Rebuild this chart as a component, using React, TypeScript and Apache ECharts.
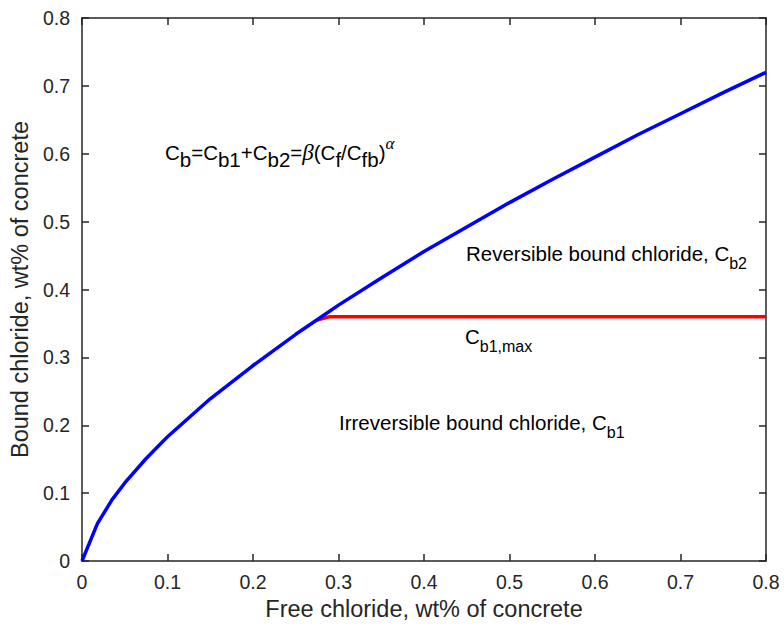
import React, { useEffect, useRef } from "react";
import * as echarts from "echarts";

const freeChloride = [0, 0.018, 0.035, 0.05, 0.075, 0.1, 0.15, 0.2, 0.25, 0.278, 0.3, 0.35, 0.4, 0.45, 0.5, 0.55, 0.6, 0.65, 0.7, 0.75, 0.8];
const boundChloride = [0, 0.055, 0.09, 0.115, 0.151, 0.183, 0.239, 0.288, 0.334, 0.358, 0.377, 0.417, 0.456, 0.492, 0.528, 0.562, 0.595, 0.628, 0.659, 0.69, 0.72];
const cb1MaxX = [0.275, 0.29, 0.8];
const cb1MaxY = [0.355, 0.36, 0.36];

const xAxisName = "Free chloride, wt% of concrete";
const yAxisName = "Bound chloride, wt% of concrete";

const AXIS_COLOR = "#262626";
const FONT = "'Liberation Sans', Arial, Helvetica, sans-serif";
const SERIF = "'Liberation Serif', 'DejaVu Serif', serif";

const richStyles = {
  n: { fontSize: 20.5, lineHeight: 20, fontFamily: FONT, color: "#000" },
  s: { fontSize: 16, lineHeight: 16, padding: [20, 0, 0, 0], fontFamily: FONT, color: "#000" },
  fs: { fontSize: 20.5, lineHeight: 20, padding: [15, 0, 0, 0], fontFamily: FONT, color: "#000" },
  g: { fontSize: 23, lineHeight: 20, fontFamily: SERIF, fontStyle: "italic", color: "#555" },
  sup: { fontSize: 17, lineHeight: 16, padding: [0, 0, 17, 0], fontFamily: SERIF, fontStyle: "italic", color: "#555" },
};

export default function App() {
  const ref = useRef<HTMLDivElement>(null);
  useEffect(() => {
    if (!ref.current) return;
    const chart = echarts.init(ref.current, null, { renderer: "svg" });
    const axisCommon = {
      type: "value" as const,
      min: 0,
      max: 0.8,
      interval: 0.1,
      axisLine: { show: true, onZero: false, lineStyle: { color: AXIS_COLOR, width: 1.5 } },
      axisTick: { show: true, inside: true, length: 7, lineStyle: { color: AXIS_COLOR, width: 1.5 } },
      splitLine: { show: false },
    };
    const mkText = (x: number, y: number, text: string) => ({
      type: "text",
      x,
      y,
      style: { text, rich: richStyles, verticalAlign: "middle", align: "left" },
    });
    chart.setOption({
      animation: false,
      backgroundColor: "#fff",
      grid: { left: 80, right: 18, top: 18, bottom: 69, containLabel: false },
      xAxis: [
        {
          ...axisCommon,
          position: "bottom",
          name: xAxisName,
          nameLocation: "middle",
          nameGap: 32,
          nameTextStyle: { fontSize: 23.5, color: AXIS_COLOR, fontFamily: FONT },
          axisLabel: { fontSize: 19.5, color: AXIS_COLOR, fontFamily: FONT, margin: 11 },
        },
        { ...axisCommon, position: "top", axisLabel: { show: false } },
      ],
      yAxis: [
        {
          ...axisCommon,
          position: "left",
          name: yAxisName,
          nameLocation: "middle",
          nameGap: 45,
          nameTextStyle: { fontSize: 23.5, color: AXIS_COLOR, fontFamily: FONT },
          axisLabel: { fontSize: 19.5, color: AXIS_COLOR, fontFamily: FONT, margin: 12 },
        },
        { ...axisCommon, position: "right", axisLabel: { show: false } },
      ],
      series: [
        {
          type: "line",
          data: cb1MaxX.map((x, i) => [x, cb1MaxY[i]]),
          symbol: "none",
          lineStyle: { color: "#ff0000", width: 3.5 },
          z: 2,
        },
        {
          type: "line",
          data: freeChloride.map((x, i) => [x, boundChloride[i]]),
          symbol: "none",
          smooth: false,
          lineStyle: { color: "#0000ff", width: 3.5 },
          z: 3,
        },
      ],
      graphic: [
        mkText(165, 152, "{n|C}{fs|b}{n|=C}{fs|b1}{n|+C}{fs|b2}{n|=}{g|β}{n|(C}{fs|f}{n|/C}{fs|fb}{n|)}{sup|α}"),
        mkText(466, 253, "{n|Reversible bound chloride, C}{s|b2}"),
        mkText(465, 336, "{n|C}{s|b1,max}"),
        mkText(339, 422, "{n|Irreversible bound chloride, C}{s|b1}"),
      ],
    });
    return () => chart.dispose();
  }, []);
  return <div ref={ref} style={{ position: "absolute", left: 0, top: 0, width: 784, height: 630 }} />;
}
